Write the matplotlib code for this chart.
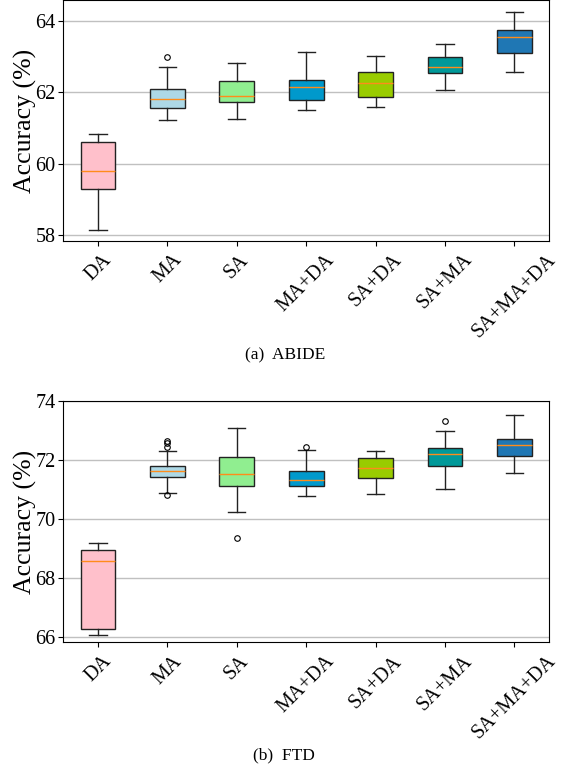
import matplotlib
matplotlib.use("Agg")
import matplotlib.pyplot as plt

plt.rcParams['font.family'] = ['Liberation Serif', 'DejaVu Serif']
plt.rcParams['mathtext.fontset'] = 'stix'

methods = ["DA", "MA", "SA", "MA+DA", "SA+DA", "SA+MA", "SA+MA+DA"]
box_colors = ["#ffc0cb", "#add8e6", "#90ee90", "#0099cc", "#99cc00", "#009999", "#1f77b4"]

# ABIDE: five-number summaries
abide_whislo = [58.14, 61.23, 61.26, 61.50, 61.59, 62.08, 62.58]
abide_q1 = [59.30, 61.57, 61.72, 61.80, 61.88, 62.54, 63.10]
abide_med = [59.80, 61.82, 61.90, 62.14, 62.25, 62.72, 63.55]
abide_q3 = [60.62, 62.10, 62.32, 62.36, 62.57, 62.99, 63.75]
abide_whishi = [60.83, 62.72, 62.81, 63.12, 63.02, 63.37, 64.26]
abide_fliers = [[], [63.00], [], [], [], [], []]

# FTD
ftd_whislo = [66.07, 70.88, 70.22, 70.76, 70.85, 71.00, 71.56]
ftd_q1 = [66.27, 71.42, 71.12, 71.10, 71.39, 71.80, 72.13]
ftd_med = [68.58, 71.63, 71.51, 71.30, 71.73, 72.18, 72.48]
ftd_q3 = [68.95, 71.79, 72.10, 71.62, 72.04, 72.40, 72.71]
ftd_whishi = [69.18, 72.31, 73.08, 72.33, 72.31, 72.97, 73.52]
ftd_fliers = [[], [72.64, 72.55, 72.44, 70.79], [69.33], [72.44], [], [73.32], []]


def make_stats(lo, q1, med, q3, hi, fliers):
    stats = []
    for i in range(len(methods)):
        stats.append(dict(label=methods[i], whislo=lo[i], q1=q1[i], med=med[i],
                          q3=q3[i], whishi=hi[i], fliers=fliers[i]))
    return stats


def draw_panel(ax, stats, ylim, yticks):
    bp = ax.bxp(stats, widths=0.5, patch_artist=True, showfliers=True,
                boxprops=dict(edgecolor="#222222", linewidth=1.0),
                medianprops=dict(color="#ff8c1a", linewidth=1.0),
                whiskerprops=dict(color="#222222", linewidth=1.0),
                capprops=dict(color="#222222", linewidth=1.0),
                flierprops=dict(marker="o", markersize=4, markerfacecolor="none",
                                markeredgecolor="black", markeredgewidth=0.8))
    for patch, c in zip(bp["boxes"], box_colors):
        patch.set_facecolor(c)
    ax.set_xlim(0.5, len(methods) + 0.5)
    ax.set_ylim(*ylim)
    ax.set_yticks(yticks)
    ax.set_xticks(range(1, len(methods) + 1))
    ax.set_xticklabels(methods, rotation=45, fontsize=14.5)
    ax.tick_params(axis="y", labelsize=14.5, pad=2)
    ax.set_ylabel("Accuracy (%)", fontsize=18.5, labelpad=-1)
    ax.yaxis.grid(True, color="#c0c0c0", linewidth=1.0)
    ax.set_axisbelow(True)


fig = plt.figure(figsize=(5.67, 7.69), dpi=100)
ax1 = fig.add_axes([0.1116, 0.687, 0.857, 0.3125])
ax2 = fig.add_axes([0.1116, 0.1648, 0.857, 0.3142])

draw_panel(ax1, make_stats(abide_whislo, abide_q1, abide_med, abide_q3, abide_whishi, abide_fliers),
           (57.84, 64.58), [58, 60, 62, 64])
draw_panel(ax2, make_stats(ftd_whislo, ftd_q1, ftd_med, ftd_q3, ftd_whishi, ftd_fliers),
           (65.81, 74.0), [66, 68, 70, 72, 74])

fig.text(0.503, 1 - 355 / 769, "(a)  ABIDE", ha="center", va="center", fontsize=12.5)
fig.text(0.50, 1 - 755 / 769, "(b)  FTD", ha="center", va="center", fontsize=12.5)

fig.savefig("out.png", dpi=100)
